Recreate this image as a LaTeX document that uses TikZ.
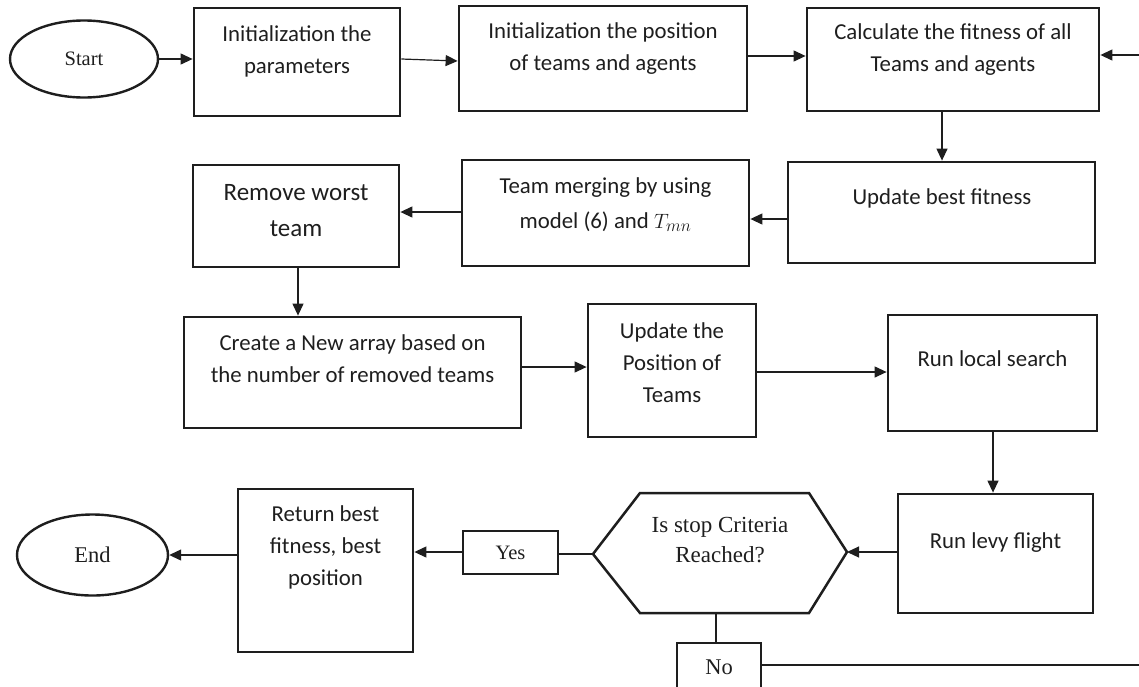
\documentclass[tikz,border=0pt]{standalone}
\usepackage{fontspec}
\setmainfont{Carlito}
\newfontfamily\serifx{Liberation Serif}
\usetikzlibrary{arrows.meta,shapes.geometric}
\definecolor{ink}{HTML}{1E1E1E}
\begin{document}
\begin{tikzpicture}[x=1pt,y=-1pt,
  box/.style={draw=ink, line width=2.8pt, inner sep=0pt},
  smallbox/.style={draw=ink, line width=2.5pt, inner sep=0pt},
  oval/.style={draw=ink, ellipse, line width=2.4pt, inner sep=0pt},
  arr/.style={draw=ink, line width=1.2pt, -{Triangle[length=12pt,width=11pt]}},
  ln/.style={draw=ink, line width=1.2pt},
  txt/.style={align=center, text=ink, inner sep=0pt, font=\fontsize{22.8}{32}\selectfont},
  stxt/.style={align=center, text=ink, inner sep=0pt, font=\serifx\fontsize{23}{30}\selectfont}
  ]
\useasboundingbox (0,0) rectangle (1139,686);
\clip (0,0) rectangle (1139,686);

% terminals
\node[oval, minimum width=148pt, minimum height=77pt, font=\serifx\fontsize{20.5}{24}\selectfont, text=ink] (start) at (84,59) {Start};
\node[oval, minimum width=151pt, minimum height=81pt, font=\serifx\fontsize{22.5}{26}\selectfont, text=ink] (end) at (92.5,555) {End};

% boxes
\node[box, minimum width=206pt, minimum height=108pt] (b1) at (297,62) {};
\node[box, minimum width=288pt, minimum height=105pt] (b2) at (603,58.5) {};
\node[box, minimum width=292pt, minimum height=103pt] (b3) at (953,59.5) {};
\node[box, minimum width=307pt, minimum height=101pt] (b4) at (941.5,212.5) {};
\node[box, minimum width=287pt, minimum height=106pt] (b5) at (605.5,213) {};
\node[box, minimum width=206pt, minimum height=102pt] (b6) at (296,216) {};
\node[box, minimum width=337pt, minimum height=111pt] (b7) at (352.5,372.5) {};
\node[box, minimum width=168pt, minimum height=133pt] (b8) at (672,370.5) {};
\node[box, minimum width=209pt, minimum height=116pt] (b9) at (992.5,373) {};
\node[box, minimum width=195pt, minimum height=119pt] (b10) at (995.5,553.5) {};
\node[box, minimum width=175pt, minimum height=163pt] (b11) at (325.5,570.5) {};
\node[smallbox, minimum width=95pt, minimum height=43pt] (yes) at (510.5,552.5) {};
\node[smallbox, minimum width=84pt, minimum height=58pt] (no) at (719,672) {};

% hexagon
\coordinate (hexL) at (593,554);
\coordinate (hexR) at (847,552);
\coordinate (hexB) at (716,613);
\draw[ink, line width=2.5pt, line join=miter] (hexL) -- (640,493) -- (809,493) -- (hexR) -- (809,613) -- (640,613) -- cycle;

% texts
\node[txt] (t1) at (297,51) {Initialization the\\parameters};
\node[txt] (t2) at (603,48.5) {Initialization the position\\of teams and agents};
\node[txt] (t3) at (953,49.5) {Calculate the fitness of all\\Teams and agents};
\node[txt] (t4) at (942,198) {Update best fitness};
\node[txt, font=\fontsize{22.8}{35}\selectfont] (t5) at (605.5,204.5) {Team merging by using\\model (6) and $T_{mn}$};
\node[txt, font=\fontsize{25}{36}\selectfont] (t6) at (296,211) {Remove worst\\team};
\node[txt] (t7) at (352.5,359) {Create a New array based on\\the number of removed teams};
\node[txt] (t8) at (672,362.5) {Update the\\Position of\\Teams};
\node[txt] (t9) at (992.5,359) {Run local search};
\node[txt] (t10) at (995.5,543) {Run levy flight};
\node[txt] (t11) at (325.5,547.5) {Return best\\fitness, best\\position};
\node[stxt] (thex) at (720,540) {Is stop Criteria\\Reached?};
\node[text=ink, inner sep=0pt, font=\serifx\fontsize{20.5}{24}\selectfont] (tyes) at (510.5,552.5) {Yes};
\node[text=ink, inner sep=0pt, font=\serifx\fontsize{22.5}{26}\selectfont] (tno) at (719,667) {No};

% free ends
\coordinate (rin) at (1139,55);
\coordinate (rout) at (1139,665);

% connectors
\draw[arr] (start.east) -- (b1.west |- start.east);
\draw[arr] (b1.east |- 0,59) -- (b2.west |- 0,61);
\draw[arr] (b2.east |- 0,56) -- (b3.west |- 0,56);
\draw[arr] (rin) -- (b3.east |- rin);
\draw[arr] (b3.south -| 942,0) -- (b4.north -| 942,0);
\draw[arr] (b4.west |- 0,219) -- (b5.east |- 0,219);
\draw[arr] (b5.west |- 0,212) -- (b6.east |- 0,212);
\draw[arr] (b6.south -| 298,0) -- (b7.north -| 298,0);
\draw[arr] (b7.east |- 0,367) -- (b8.west |- 0,367);
\draw[arr] (b8.east |- 0,372) -- (b9.west |- 0,372);
\draw[arr] (b9.south -| 993,0) -- (b10.north -| 993,0);
\draw[arr] (b10.west |- hexR) -- (hexR);
\draw[ln] (hexL) -- (yes.east |- hexL);
\draw[arr] (yes.west |- 0,552) -- (b11.east |- 0,552);
\draw[arr] (b11.west |- end.east) -- (end.east);
\draw[ln] (hexB) -- (no.north -| hexB);
\draw[ln] (no.east |- rout) -- (rout);
\end{tikzpicture}
\end{document}
